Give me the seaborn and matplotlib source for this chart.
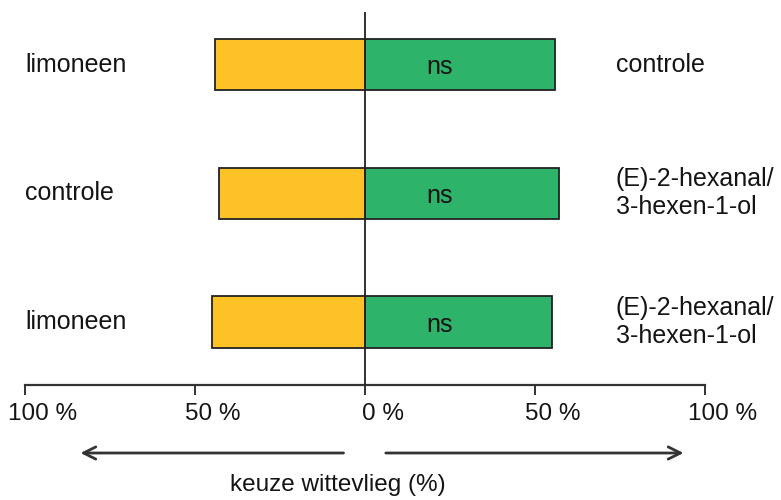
import pandas as pd
import numpy as np
import seaborn as sns
from matplotlib import pyplot as plt
from matplotlib import transforms


# choice data (percentage of whiteflies per side)
pairs = [0, 1, 2]
left_labels = ['limoneen', 'controle', 'limoneen']
right_labels = ['controle', '(E)-2-hexanal/\n3-hexen-1-ol', '(E)-2-hexanal/\n3-hexen-1-ol']
left_pct = [44, 43, 45]
right_pct = [56, 57, 55]
signif = ['ns', 'ns', 'ns']

tick_values = [-100, -50, 0, 50, 100]
tick_labels = ['100 %', '50 %', '0 %', '50 %', '100 %']

orange = '#FDC226'
green = '#2EB36A'
ink = '#141414'


if __name__ == "__main__":
    sns.set_style('white')
    plt.rcParams['font.family'] = ['Liberation Sans', 'DejaVu Sans']
    plt.rcParams['font.size'] = 18
    plt.rcParams['text.color'] = ink
    plt.rcParams['xtick.color'] = ink

    df = pd.DataFrame({'pair': pairs,
                       'left': [-v for v in left_pct],
                       'right': right_pct})

    fig = plt.figure(figsize=(7.81, 5.0), dpi=100)
    ax = fig.add_axes([25 / 781, 1 - 385 / 500, 680 / 781, 373 / 500])

    sns.barplot(data=df, x='left', y='pair', orient='h', color=orange,
                width=0.4, edgecolor='#222222', linewidth=1.3, ax=ax, saturation=1)
    sns.barplot(data=df, x='right', y='pair', orient='h', color=green,
                width=0.4, edgecolor='#222222', linewidth=1.3, ax=ax, saturation=1)

    ax.axvline(0, color='#222222', lw=1.3, zorder=5)

    ax.set_xlim(-100, 100)
    ax.set_ylim(2.49, -0.41)

    for sp in ['left', 'right', 'top']:
        ax.spines[sp].set_visible(False)
    ax.spines['bottom'].set_color('#333333')
    ax.spines['bottom'].set_linewidth(1.6)

    ax.set_yticks([])
    ax.set_ylabel('')
    ax.set_xlabel('')
    ax.set_xticks(tick_values)
    ax.set_xticklabels(tick_labels, fontsize=17.5)
    ax.tick_params(axis='x', direction='out', length=7, width=1.4,
                   color='#333333', labelcolor=ink, pad=6, bottom=True)
    offset = transforms.ScaledTranslation(18 / 100, 0, fig.dpi_scale_trans)
    for lbl in ax.get_xticklabels():
        lbl.set_transform(lbl.get_transform() + offset)

    trans = transforms.blended_transform_factory(ax.transAxes, ax.transData)
    for i, p in enumerate(pairs):
        ax.text(0.0, p, left_labels[i], transform=trans, ha='left', va='center',
                fontsize=18)
        ax.text(0.869, p, right_labels[i], transform=trans, ha='left', va='center',
                fontsize=18, linespacing=1.2)
        ax.text(22, p + 0.02, signif[i], ha='center', va='center', fontsize=18)

    # arrows under the axis
    arrow_kw = dict(arrowstyle='->', lw=2.0, color='#333333',
                    mutation_scale=22)
    ax.annotate('', xy=(-84.5, 0.094), xytext=(-5.5, 0.094),
                xycoords=('data', 'figure fraction'),
                textcoords=('data', 'figure fraction'),
                arrowprops=arrow_kw, annotation_clip=False)
    ax.annotate('', xy=(94.5, 0.094), xytext=(5.3, 0.094),
                xycoords=('data', 'figure fraction'),
                textcoords=('data', 'figure fraction'),
                arrowprops=arrow_kw, annotation_clip=False)

    fig.text(338 / 781, 1 - 485 / 500, 'keuze wittevlieg (%)', ha='center',
             va='center', fontsize=17.5)

    fig.savefig('out.png', dpi=100)
